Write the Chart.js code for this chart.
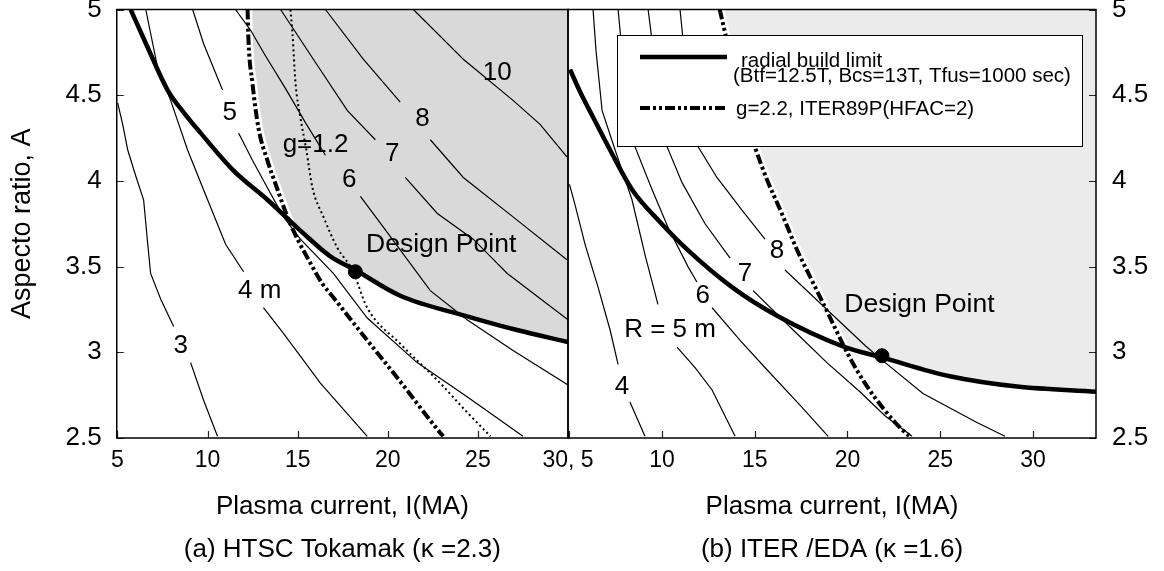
<!DOCTYPE html>
<html>
<head>
<meta charset="utf-8">
<title>Plasma current vs aspect ratio</title>
<script src="https://cdn.jsdelivr.net/npm/chart.js@4.4.1/dist/chart.umd.min.js"></script>
<style>
  html, body { margin:0; padding:0; background:#ffffff; }
  #wrap { position:relative; width:1164px; height:571px; overflow:hidden; background:#fff; }
  #wrap canvas { position:absolute; top:0; }
  #cA { left:0; }
  #cB { left:500px; }
</style>
</head>
<body>
<div id="wrap">
  <canvas id="cA" width="640" height="571"></canvas>
  <canvas id="cB" width="664" height="571"></canvas>
</div>
<script>
// ================= DATA =================
const yTicks = [2.5, 3, 3.5, 4, 4.5, 5];
const yTickLabels = ['2.5', '3', '3.5', '4', '4.5', '5'];
const xTicksA = [5, 10, 15, 20, 25, 30];
const xTickLabelsA = ['5', '10', '15', '20', '25', '30, 5'];
const xTicksB = [5, 10, 15, 20, 25, 30];
const xTickLabelsB = ['', '10', '15', '20', '25', '30'];

const captionA = '(a) HTSC Tokamak (\u03BA =2.3)';
const captionB = '(b) ITER /EDA (\u03BA =1.6)';
const xTitle = 'Plasma current, I(MA)';
const yTitle = 'Aspecto ratio, A';

// ---- panel (a): HTSC Tokamak, contours of major radius R (m); null = label gap
const a_R3  = [[5.01,4.455],[5.29,4.33],[5.57,4.18],[6.01,4.03],[6.45,3.89],[6.68,3.63],[6.84,3.46],[7.40,3.31],[8.12,3.15],null,[9.06,2.94],[9.78,2.72],[10.55,2.51]];
const a_R4  = [[6.57,5.0],[7.23,4.66],[7.95,4.47],[8.89,4.18],[10.0,3.89],[11.0,3.63],[12.0,3.47],null,[13.1,3.26],[14.21,3.11],[16.26,2.82],[18.86,2.51]];
const a_R5  = [[9.17,5.0],[9.78,4.80],[10.83,4.53],null,[11.72,4.28],[12.49,4.12],[13.32,3.96],[14.21,3.79],[15.15,3.66],[16.98,3.46],[18.86,3.20],[21.63,2.94],[24.40,2.74],[27.50,2.51]];
const a_R6  = [[11.55,5.0],[12.38,4.88],[13.21,4.73],[14.32,4.54],[15.43,4.34],[16.54,4.15],null,[18.48,3.91],[19.97,3.70],[22.36,3.36],[24.40,3.19],[26.95,3.01],[30.0,2.81]];
const a_R7  = [[14.05,5.0],[15.87,4.71],[17.76,4.41],[19.31,4.24],null,[20.97,4.02],[22.75,3.81],[24.74,3.66],[26.63,3.46],[30.0,3.19]];
const a_R8  = [[16.54,5.0],[18.64,4.71],[20.69,4.46],null,[22.36,4.24],[24.19,4.02],[26.95,3.79],[29.94,3.54]];
const a_R10 = [[21.42,5.0],[24.19,4.71],[26.95,4.47],[28.45,4.33],[29.94,4.14]];
const a_g12 = [[14.60,5.0],[14.71,4.86],[14.88,4.57],[15.15,4.37],[15.48,4.18],[15.82,3.96],[16.43,3.79],[17.20,3.61],[18.03,3.48],[18.86,3.26],[20.69,3.05],[22.91,2.82],[24.4,2.65],[25.7,2.51]];
const a_g22 = [[12.22,5.0],[12.27,4.82],[12.49,4.57],[12.82,4.31],[13.32,4.12],[13.88,3.95],[14.43,3.79],[14.99,3.66],[15.71,3.52],[16.37,3.40],[16.98,3.32],[18.86,3.07],[20.69,2.83],[22.91,2.53],[23.08,2.51]];
const a_radial = [[5.73,5.0],[6.67,4.78],[7.78,4.53],[8.67,4.40],[9.61,4.28],[11.44,4.06],[13.32,3.89],[15.15,3.71],[16.81,3.56],[18.20,3.48],[20.69,3.33],[24.40,3.21],[27.17,3.13],[30.0,3.06]];
const a_design = [18.2, 3.47];
const a_labels = [['3',8.51,3.04],['4 m',12.89,3.36],['5',11.23,4.40],['6',17.86,4.005],['7',20.25,4.16],['8',21.93,4.36],['10',26.07,4.63],['g=1.2',15.99,4.21]];
const a_designLabel = ['Design Point', 22.96, 3.626];

// ---- panel (b): ITER/EDA
const b_R4 = [[5.01,3.98],[5.31,3.86],[5.85,3.63],[6.55,3.38],[7.20,3.13],[7.63,2.93],null,[8.27,2.71],[9.08,2.51]];
const b_R5 = [[6.28,5.0],[6.44,4.76],[6.77,4.41],[7.47,4.18],[8.38,3.89],[9.08,3.57],[9.78,3.28],null,[10.81,3.03],[11.78,2.91],[12.70,2.78],[13.94,2.51]];
const b_R6 = [[7.63,5.0],[7.84,4.76],[8.17,4.47],[8.54,4.20],[9.46,3.95],[10.32,3.73],[11.40,3.50],[11.88,3.41],null,[12.70,3.26],[14.21,3.07],[15.56,2.91],[17.45,2.69],[18.96,2.51]];
const b_R7 = [[9.25,5.0],[9.46,4.82],[9.78,4.47],[10.27,4.20],[11.08,3.99],[12.32,3.75],[13.67,3.55],null,[14.91,3.36],[17.07,3.13],[18.89,2.94],[20.67,2.77],[22.02,2.63],[23.48,2.51]];
const b_R8 = [[10.97,5.0],[11.24,4.71],[11.62,4.41],[11.94,4.20],[12.96,4.02],[14.31,3.83],[15.55,3.66],null,[16.63,3.48],[18.79,3.26],[20.95,3.04],[21.92,2.95],[24.07,2.76],[26.98,2.59],[28.49,2.51]];
const b_g22 = [[13.11,5.0],[13.49,4.82],[13.92,4.59],[14.46,4.38],[15.00,4.20],[15.65,4.01],[16.46,3.81],[17.27,3.60],[18.08,3.42],[18.94,3.23],[20.02,2.99],[20.94,2.82],[22.02,2.66],[22.93,2.55],[23.36,2.51]];
const b_radial = [[5.04,4.65],[5.58,4.52],[6.29,4.37],[7.20,4.18],[8.38,3.95],[9.89,3.76],[11.35,3.60],[13.77,3.38],[16.25,3.21],[19.86,3.03],[21.86,2.97],[25.52,2.86],[29.14,2.80],[33.4,2.77]];
const b_design = [21.86, 2.98];
const b_labels = [['R = 5 m',10.43,3.13],['4',7.84,2.80],['6',12.20,3.33],['7',14.47,3.46],['8',16.2,3.59]];
const b_designLabel = ['Design Point', 23.88, 3.276];

const legendLabels = [['radial build limit', '(Btf=12.5T, Bcs=13T, Tfus=1000 sec)'], ['g=2.2, ITER89P(HFAC=2)']];

// ================= HELPERS =================
const FONT = '"Liberation Sans", Arial, Helvetica, sans-serif';
const P = arr => arr.map(p => p ? { x: p[0], y: p[1] } : { x: null, y: null });
const DASHDOT = [10, 3, 3, 3, 3, 3];

function segX(p1, p2, p3, p4) {
  const d = (p2[0]-p1[0])*(p4[1]-p3[1]) - (p2[1]-p1[1])*(p4[0]-p3[0]);
  if (d === 0) return null;
  const t = ((p3[0]-p1[0])*(p4[1]-p3[1]) - (p3[1]-p1[1])*(p4[0]-p3[0])) / d;
  const u = ((p3[0]-p1[0])*(p2[1]-p1[1]) - (p3[1]-p1[1])*(p2[0]-p1[0])) / d;
  if (t >= 0 && t <= 1 && u >= 0 && u <= 1) return [p1[0]+t*(p2[0]-p1[0]), p1[1]+t*(p2[1]-p1[1])];
  return null;
}
// allowed region boundary: g-limit line down to where it meets the radial build limit, then that limit
function shadeBoundary(g, rb) {
  for (let i = 0; i < g.length-1; i++) {
    for (let j = 0; j < rb.length-1; j++) {
      const ip = segX(g[i], g[i+1], rb[j], rb[j+1]);
      if (ip) return g.slice(0, i+1).concat([ip], rb.slice(j+1));
    }
  }
  return g;
}

function thin(label, arr) {
  return { label, data: P(arr), borderColor: '#000', borderWidth: 1.2, pointRadius: 0, pointHoverRadius: 0, fill: false, order: 10, clip: 0, spanGaps: false };
}
function panelDatasets(shadeColor, contours, g12, g22, radial, design) {
  const ds = [];
  const smooth = { cubicInterpolationMode: 'monotone' };
  ds.push(Object.assign({ label: 'allowed region', data: P(shadeBoundary(g22, radial)), borderColor: 'transparent', borderWidth: 1, backgroundColor: shadeColor, fill: 'end', pointRadius: 0, order: 20, clip: 0 }, smooth));
  ds.push(Object.assign({ label: 'g limit underlay', data: P(g22), borderColor: '#ffffff', borderWidth: 9, pointRadius: 0, fill: false, order: 15, clip: 0 }, smooth));
  contours.forEach(c => ds.push(thin(c[0], c[1])));
  if (g12) ds.push(Object.assign({ label: 'g=1.2', data: P(g12), borderColor: '#000', borderWidth: 2, borderDash: [2, 3], pointRadius: 0, fill: false, order: 8, clip: 0 }, smooth));
  ds.push(Object.assign({ label: 'g=2.2, ITER89P(HFAC=2)', data: P(g22), borderColor: '#000', borderWidth: 4, borderDash: DASHDOT, borderCapStyle: 'butt', pointRadius: 0, fill: false, order: 6, clip: 0 }, smooth));
  ds.push(Object.assign({ label: 'radial build limit', data: P(radial), borderColor: '#000', borderWidth: 4.5, pointRadius: 0, fill: false, order: 4, clip: 0, borderJoinStyle: 'round' }, smooth));
  ds.push({ label: 'Design Point', data: P([design]), showLine: false, pointRadius: 7, pointHoverRadius: 7, pointBackgroundColor: '#000', pointBorderColor: '#000', order: 2 });
  return ds;
}

// frame + inward tick marks
const framePlugin = {
  id: 'frame',
  afterDatasetsDraw(chart) {
    const { ctx, chartArea: a, scales } = chart;
    ctx.save();
    ctx.strokeStyle = '#222';
    ctx.lineWidth = 1.2;
    ctx.beginPath();
    scales.x.ticks.forEach(t => {
      const p = Math.round(scales.x.getPixelForValue(t.value)) + 0.5;
      ctx.moveTo(p, a.bottom); ctx.lineTo(p, a.bottom - 7);
    });
    scales.y.ticks.forEach(t => {
      const p = Math.round(scales.y.getPixelForValue(t.value)) + 0.5;
      if (scales.y.position === 'left') { ctx.moveTo(a.left, p); ctx.lineTo(a.left + 7, p); }
      else { ctx.moveTo(a.right, p); ctx.lineTo(a.right - 7, p); }
    });
    ctx.stroke();
    ctx.strokeStyle = '#000';
    ctx.lineWidth = 1.5;
    ctx.strokeRect(a.left, a.top, a.right - a.left, a.bottom - a.top);
    ctx.restore();
  }
};

function textPlugin(items, design) {
  return {
    id: 'texts',
    afterDatasetsDraw(chart) {
      const { ctx, scales } = chart;
      ctx.save();
      ctx.fillStyle = '#000';
      ctx.textAlign = 'center';
      ctx.textBaseline = 'middle';
      ctx.font = '26px ' + FONT;
      items.forEach(it => ctx.fillText(it[0], scales.x.getPixelForValue(it[1]), scales.y.getPixelForValue(it[2])));
      ctx.font = '26.5px ' + FONT;
      ctx.fillText(design[0], scales.x.getPixelForValue(design[1]), scales.y.getPixelForValue(design[2]));
      ctx.restore();
    }
  };
}

const legendPlugin = {
  id: 'legendBox',
  afterDraw(chart) {
    const { ctx, chartArea: a } = chart;
    const bx = a.left + 49, by = a.top + 25.5, bw = 465, bh = 111;
    ctx.save();
    ctx.fillStyle = '#fff';
    ctx.fillRect(bx, by, bw, bh);
    ctx.strokeStyle = '#000';
    ctx.lineWidth = 1;
    ctx.strokeRect(Math.round(bx) + 0.5, Math.round(by) + 0.5, bw, bh);
    ctx.lineCap = 'butt';
    ctx.lineWidth = 4.5;
    ctx.beginPath(); ctx.moveTo(bx + 23, by + 22); ctx.lineTo(bx + 110, by + 22); ctx.stroke();
    ctx.lineWidth = 4;
    ctx.setLineDash(DASHDOT);
    ctx.beginPath(); ctx.moveTo(bx + 23, by + 73); ctx.lineTo(bx + 110, by + 73); ctx.stroke();
    ctx.setLineDash([]);
    ctx.fillStyle = '#000';
    ctx.textAlign = 'left';
    ctx.textBaseline = 'alphabetic';
    ctx.font = '20.5px ' + FONT;
    ctx.fillText(legendLabels[0][0], bx + 124, by + 31.5);
    ctx.fillText(legendLabels[0][1], bx + 116, by + 46.5);
    ctx.fillText(legendLabels[1][0], bx + 119, by + 80);
    ctx.restore();
  }
};

function baseOptions(o) {
  return {
    responsive: false,
    animation: false,
    devicePixelRatio: 1,
    events: [],
    layout: { padding: o.padding },
    plugins: {
      legend: { display: false },
      tooltip: { enabled: false },
      title: { display: true, text: o.caption, position: 'bottom', fullSize: false, color: '#000',
               font: { family: FONT, size: 26, weight: 'normal' }, padding: { top: 0, bottom: 5.4 } }
    },
    scales: {
      x: {
        type: 'linear', position: 'bottom', min: o.xmin, max: o.xmax,
        grid: { display: false, drawTicks: false }, border: { display: false },
        afterBuildTicks: s => { s.ticks = o.xTicks.map(v => ({ value: v })); },
        afterFit: s => { s.height = 96.4; s.paddingLeft = 0; s.paddingRight = 0; },
        ticks: { autoSkip: false, maxRotation: 0, padding: 9, color: '#000', font: { family: FONT, size: 23 },
                 callback: (v, i) => o.xLabels[i] },
        title: { display: true, text: xTitle, color: '#000', font: { family: FONT, size: 26 }, padding: { top: 0, bottom: 12 } }
      },
      y: {
        type: 'linear', position: o.yPos, min: 2.5, max: 5,
        grid: { display: false, drawTicks: false }, border: { display: false },
        afterBuildTicks: s => { s.ticks = yTicks.map(v => ({ value: v })); },
        afterFit: s => { s.width = o.yWidth; s.paddingTop = 0; s.paddingBottom = 0; },
        ticks: { autoSkip: false, padding: o.yPad, color: '#000', font: { family: FONT, size: 26 },
                 callback: (v, i) => yTickLabels[i] },
        title: { display: o.yTitle, text: yTitle, color: '#000', font: { family: FONT, size: 27 }, padding: { top: 6.8, bottom: 0 } }
      }
    }
  };
}

// ================= CHARTS =================
new Chart(document.getElementById('cA'), {
  type: 'line',
  data: { datasets: panelDatasets('#d9d9d9',
    [['R=3 m', a_R3], ['R=4 m', a_R4], ['R=5 m', a_R5], ['R=6 m', a_R6], ['R=7 m', a_R7], ['R=8 m', a_R8], ['R=10 m', a_R10]],
    a_g12, a_g22, a_radial, a_design) },
  options: baseOptions({ padding: { left: 0, right: 72, top: 9.5, bottom: 0 }, caption: captionA,
    xmin: 4.96, xmax: 30, xTicks: xTicksA, xLabels: xTickLabelsA, yPos: 'left', yWidth: 116.75, yPad: 15, yTitle: true }),
  plugins: [framePlugin, textPlugin(a_labels, a_designLabel)]
});

new Chart(document.getElementById('cB'), {
  type: 'line',
  data: { datasets: panelDatasets('#ebebeb',
    [['R=4 m', b_R4], ['R=5 m', b_R5], ['R=6 m', b_R6], ['R=7 m', b_R7], ['R=8 m', b_R8]],
    null, b_g22, b_radial, b_design) },
  options: baseOptions({ padding: { left: 68, right: 0, top: 9.5, bottom: 0 }, caption: captionB,
    xmin: 4.93, xmax: 33.4, xTicks: xTicksB, xLabels: xTickLabelsB, yPos: 'right', yWidth: 68, yPad: 16, yTitle: false }),
  plugins: [framePlugin, textPlugin(b_labels, b_designLabel), legendPlugin]
});
</script>
</body>
</html>
